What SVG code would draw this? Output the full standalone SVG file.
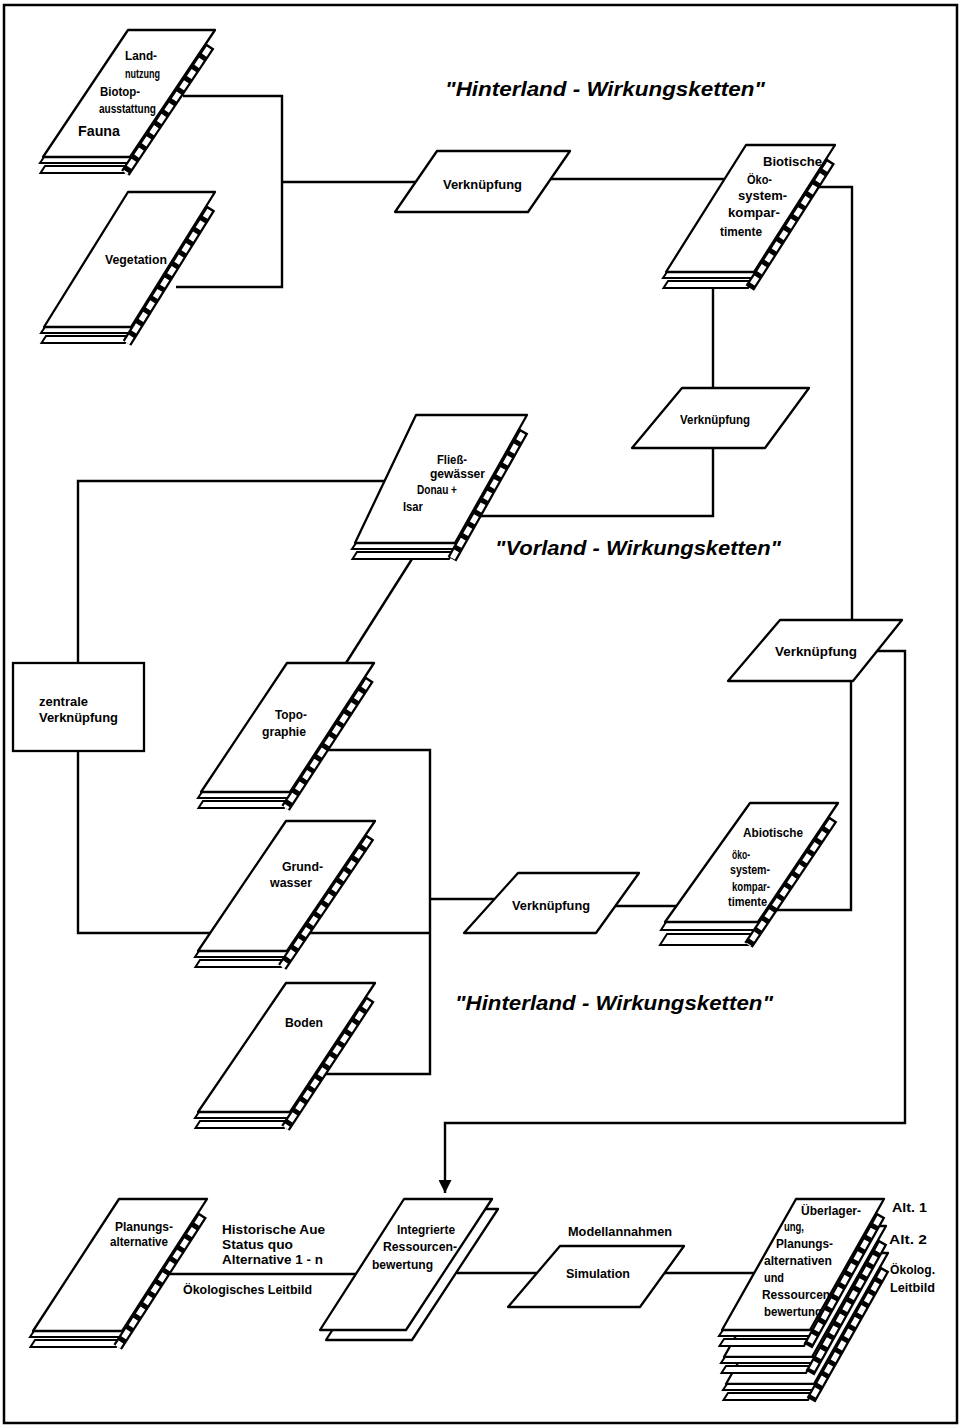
<svg xmlns="http://www.w3.org/2000/svg" width="969" height="1428" viewBox="0 0 969 1428">
<defs>
<style>
.ln{fill:none;stroke:#000;stroke-width:2.4;stroke-linejoin:miter}
.sheet{fill:#fff;stroke:#000;stroke-width:2.3;stroke-linejoin:round}
.band{fill:#fff;stroke:#000;stroke-width:2}
.sb{fill:none;stroke:#000;stroke-width:10}
.sw{fill:none;stroke:#fff;stroke-width:5.5;stroke-dasharray:0 2.5 8.5 2.5}
.op{fill:#fff;stroke:#000;stroke-width:2.3;stroke-linejoin:round}
text{font-family:"Liberation Sans",Arial,Helvetica,sans-serif;font-weight:bold;fill:#000}
.t{font-size:12px}
.v{font-size:12.5px}
.title{font-size:20px;font-style:italic}
</style>
<marker id="arr" viewBox="0 0 10 10" refX="10" refY="5" markerUnits="userSpaceOnUse" markerWidth="15" markerHeight="13" orient="auto">
<path d="M0,0 L10,5 L0,10 z" fill="#000"/>
</marker>
</defs>
<rect x="0" y="0" width="969" height="1428" fill="#fff"/>
<rect x="4" y="5" width="953" height="1418" fill="none" stroke="#000" stroke-width="2.5"/>

<g id="connectors">
<polyline class="ln" points="183,96 282,96 282,287 176,287"/>
<line class="ln" x1="282" y1="182" x2="416" y2="182"/>
<line class="ln" x1="551" y1="179" x2="724" y2="179"/>
<polyline class="ln" points="819,187 852,187 852,620"/>
<line class="ln" x1="713" y1="288" x2="713" y2="388"/>
<polyline class="ln" points="713,448 713,516 480,516"/>
<polyline class="ln" points="385,481 78,481 78,663"/>
<polyline class="ln" points="78,751 78,933 210,933"/>
<line class="ln" x1="412" y1="559" x2="346" y2="663"/>
<polyline class="ln" points="328,750 430,750 430,1074 326,1074"/>
<line class="ln" x1="310" y1="933" x2="430" y2="933"/>
<line class="ln" x1="430" y1="899" x2="495" y2="899"/>
<line class="ln" x1="615" y1="906" x2="676" y2="906"/>
<polyline class="ln" points="777,910 851,910 851,681"/>
<polyline class="ln" points="877,651 905,651 905,1123 445,1123 445,1193" marker-end="url(#arr)"/>
<line class="ln" x1="170" y1="1274" x2="356" y2="1274"/>
<line class="ln" x1="457" y1="1273" x2="537" y2="1273"/>
<line class="ln" x1="664" y1="1273" x2="754" y2="1273"/>
</g>

<g id="titles">
<text class="title" x="445" y="96" textLength="320" lengthAdjust="spacingAndGlyphs">"Hinterland - Wirkungsketten"</text>
<text class="title" x="495" y="555" textLength="286" lengthAdjust="spacingAndGlyphs">"Vorland - Wirkungsketten"</text>
<text class="title" x="455" y="1010" textLength="318" lengthAdjust="spacingAndGlyphs">"Hinterland - Wirkungsketten"</text>
</g>

<g id="landnutzung">
<polygon class="band" points="45,166 128,166 124,173 40.5,173"/>
<polygon class="band" points="44,157 134,157 130,163 40,163"/>
<line class="sb" x1="210.3" y1="46" x2="125.3" y2="173"/>
<line class="sw" x1="210.3" y1="46" x2="125.3" y2="173"/>
<polygon class="sheet" points="128,30 215,30 130,157 43,157"/>
<text class="t" x="125" y="60" textLength="32" lengthAdjust="spacingAndGlyphs">Land-</text>
<text class="t" x="125" y="78" textLength="35" lengthAdjust="spacingAndGlyphs">nutzung</text>
<text class="t" x="100" y="96" textLength="40" lengthAdjust="spacingAndGlyphs">Biotop-</text>
<text class="t" x="99" y="113" textLength="57" lengthAdjust="spacingAndGlyphs">ausstattung</text>
<text x="78" y="136" font-size="14" textLength="42" lengthAdjust="spacingAndGlyphs">Fauna</text>
</g>

<g id="vegetation">
<polygon class="band" points="46,336 129,336 125,343 41.5,343"/>
<polygon class="band" points="45,327 135,327 131,333 41,333"/>
<line class="sb" x1="211" y1="208" x2="127" y2="343"/>
<line class="sw" x1="211" y1="208" x2="127" y2="343"/>
<polygon class="sheet" points="128,192 215,192 131,327 44,327"/>
<text class="t" x="105" y="264" textLength="62" lengthAdjust="spacingAndGlyphs">Vegetation</text>
</g>

<g id="verknuepfung1">
<polygon class="op" points="437,151 570,151 528,212 395,212"/>
<text class="v" x="443" y="189" textLength="79" lengthAdjust="spacingAndGlyphs">Verknüpfung</text>
</g>

<g id="biotische">
<polygon class="band" points="668,281 752,281 748,288 663.5,288"/>
<polygon class="band" points="667,272 758,272 754,278 663,278"/>
<line class="sb" x1="830.8" y1="161" x2="749.8" y2="288"/>
<line class="sw" x1="830.8" y1="161" x2="749.8" y2="288"/>
<polygon class="sheet" points="746,145 835,145 754,272 666,272"/>
<text class="t" x="763" y="166" textLength="59" lengthAdjust="spacingAndGlyphs">Biotische</text>
<text class="t" x="747" y="184" textLength="25" lengthAdjust="spacingAndGlyphs">Öko-</text>
<text class="t" x="738" y="200" textLength="49" lengthAdjust="spacingAndGlyphs">system-</text>
<text class="t" x="728" y="217" textLength="52" lengthAdjust="spacingAndGlyphs">kompar-</text>
<text class="t" x="720" y="235.5" textLength="42" lengthAdjust="spacingAndGlyphs">timente</text>
</g>

<g id="verknuepfung2">
<polygon class="op" points="682,388 809,388 765,448 632,448"/>
<text class="v" x="680" y="424" textLength="70" lengthAdjust="spacingAndGlyphs">Verknüpfung</text>
</g>

<g id="fliessgewaesser">
<polygon class="band" points="357,552 453,552 449,559 352.5,559"/>
<polygon class="band" points="356,543 459,543 455,549 352,549"/>
<line class="sb" x1="524" y1="431" x2="452" y2="559"/>
<line class="sw" x1="524" y1="431" x2="452" y2="559"/>
<polygon class="sheet" points="416,415 527,415 455,543 355,543"/>
<text class="t" x="437" y="464" textLength="30" lengthAdjust="spacingAndGlyphs">Fließ-</text>
<text class="t" x="430" y="478" textLength="55" lengthAdjust="spacingAndGlyphs">gewässer</text>
<text class="t" x="417" y="494" textLength="40" lengthAdjust="spacingAndGlyphs">Donau +</text>
<text class="t" x="403" y="511" textLength="20" lengthAdjust="spacingAndGlyphs">Isar</text>
</g>

<g id="verknuepfung3">
<polygon class="op" points="780,620 902,620 853,681 728,681"/>
<text class="v" x="775" y="656" textLength="82" lengthAdjust="spacingAndGlyphs">Verknüpfung</text>
</g>

<g id="zentrale">
<rect x="13" y="663" width="131" height="88" fill="#fff" stroke="#000" stroke-width="2.3"/>
<text class="t" x="39" y="706" textLength="49" lengthAdjust="spacingAndGlyphs">zentrale</text>
<text class="t" x="39" y="722" textLength="79" lengthAdjust="spacingAndGlyphs">Verknüpfung</text>
</g>

<g id="topographie">
<polygon class="band" points="203,801 288,801 284,808 198.5,808"/>
<polygon class="band" points="202,792 294,792 290,798 198,798"/>
<line class="sb" x1="369.6" y1="679" x2="285.6" y2="808"/>
<line class="sw" x1="369.6" y1="679" x2="285.6" y2="808"/>
<polygon class="sheet" points="287,663 374,663 290,792 201,792"/>
<text class="t" x="275" y="719" textLength="32" lengthAdjust="spacingAndGlyphs">Topo-</text>
<text class="t" x="262" y="736" textLength="44" lengthAdjust="spacingAndGlyphs">graphie</text>
</g>

<g id="grundwasser">
<polygon class="band" points="200,960 285,960 281,967 195.5,967"/>
<polygon class="band" points="199,951 291,951 287,957 195,957"/>
<line class="sb" x1="370.2" y1="837" x2="282.2" y2="967"/>
<line class="sw" x1="370.2" y1="837" x2="282.2" y2="967"/>
<polygon class="sheet" points="286,821 375,821 287,951 198,951"/>
<text class="t" x="282" y="871" textLength="41" lengthAdjust="spacingAndGlyphs">Grund-</text>
<text class="t" x="270" y="887" textLength="42" lengthAdjust="spacingAndGlyphs">wasser</text>
</g>

<g id="boden">
<polygon class="band" points="200,1121 288,1121 284,1128 195.5,1128"/>
<polygon class="band" points="199,1112 294,1112 290,1118 195,1118"/>
<line class="sb" x1="370.5" y1="999" x2="285.5" y2="1128"/>
<line class="sw" x1="370.5" y1="999" x2="285.5" y2="1128"/>
<polygon class="sheet" points="286,983 375,983 290,1112 198,1112"/>
<text class="t" x="285" y="1027" textLength="38" lengthAdjust="spacingAndGlyphs">Boden</text>
</g>

<g id="verknuepfung4">
<polygon class="op" points="518,873 639,873 596,933 464,933"/>
<text class="v" x="512" y="910" textLength="78" lengthAdjust="spacingAndGlyphs">Verknüpfung</text>
</g>

<g id="abiotische">
<polygon class="band" points="667,934 754,934 748,945 660,945"/>
<polygon class="band" points="666,922 762,922 757,930 661,930"/>
<line class="sb" x1="833.2" y1="819" x2="748.5" y2="945"/>
<line class="sw" x1="833.2" y1="819" x2="748.5" y2="945"/>
<polygon class="sheet" points="750,803 838,803 758,922 665,922"/>
<text class="t" x="743" y="837" textLength="60" lengthAdjust="spacingAndGlyphs">Abiotische</text>
<text class="t" x="732" y="859" textLength="18" lengthAdjust="spacingAndGlyphs">öko-</text>
<text class="t" x="730" y="874" textLength="40" lengthAdjust="spacingAndGlyphs">system-</text>
<text class="t" x="732" y="891" textLength="38" lengthAdjust="spacingAndGlyphs">kompar-</text>
<text class="t" x="728" y="906" textLength="39" lengthAdjust="spacingAndGlyphs">timente</text>
</g>

<g id="planungsalternative">
<polygon class="band" points="35,1340 120,1340 116,1347 30.5,1347"/>
<polygon class="band" points="34,1331 126,1331 122,1337 30,1337"/>
<line class="sb" x1="202.7" y1="1215" x2="117.7" y2="1347"/>
<line class="sw" x1="202.7" y1="1215" x2="117.7" y2="1347"/>
<polygon class="sheet" points="119,1199 207,1199 122,1331 33,1331"/>
<text class="t" x="115" y="1231" textLength="58" lengthAdjust="spacingAndGlyphs">Planungs-</text>
<text class="t" x="110" y="1246" textLength="58" lengthAdjust="spacingAndGlyphs">alternative</text>
</g>

<g id="alternativen-label">
<text class="t" x="222" y="1234" textLength="103" lengthAdjust="spacingAndGlyphs">Historische Aue</text>
<text class="t" x="222" y="1249" textLength="71" lengthAdjust="spacingAndGlyphs">Status quo</text>
<text class="t" x="222" y="1264" textLength="101" lengthAdjust="spacingAndGlyphs">Alternative 1 - n</text>
<text class="t" x="183" y="1294" textLength="129" lengthAdjust="spacingAndGlyphs">Ökologisches Leitbild</text>
</g>

<g id="integrierte">
<polygon class="sheet" points="410,1209 498,1209 412,1340 326,1340"/>
<polygon class="sheet" points="404,1199 492,1199 406,1330 320,1330"/>
<text class="t" x="397" y="1234" textLength="58" lengthAdjust="spacingAndGlyphs">Integrierte</text>
<text class="t" x="383" y="1251" textLength="74" lengthAdjust="spacingAndGlyphs">Ressourcen-</text>
<text class="t" x="372" y="1269" textLength="61" lengthAdjust="spacingAndGlyphs">bewertung</text>
</g>

<g id="simulation">
<polygon class="op" points="560,1246 684,1246 640,1307 508,1307"/>
<text class="t" x="566" y="1278" textLength="64" lengthAdjust="spacingAndGlyphs">Simulation</text>
<text class="t" x="568" y="1236" textLength="104" lengthAdjust="spacingAndGlyphs">Modellannahmen</text>
</g>

<g id="ueberlagerung">
<polygon class="sheet" points="800,1253 888,1253 814,1384 726,1384"/>
<polygon class="band" points="728,1393 812,1393 808,1400 723.5,1400"/>
<polygon class="band" points="727,1384 818,1384 814.6,1390 723,1390"/>
<line class="sb" x1="885" y1="1269" x2="811" y2="1400"/>
<line class="sw" x1="885" y1="1269" x2="811" y2="1400"/>
<polygon class="sheet" points="798,1226 886,1226 812,1357 724,1357"/>
<polygon class="band" points="726,1366 810,1366 806,1373 721.5,1373"/>
<polygon class="band" points="725,1357 816,1357 812.6,1363 721,1363"/>
<line class="sb" x1="883" y1="1242" x2="810" y2="1373"/>
<line class="sw" x1="883" y1="1242" x2="810" y2="1373"/>
<polygon class="band" points="724,1339 808,1339 804,1346 719.5,1346"/>
<polygon class="band" points="723,1330 814,1330 810.6,1336 719,1336"/>
<line class="sb" x1="881" y1="1215" x2="808" y2="1346"/>
<line class="sw" x1="881" y1="1215" x2="808" y2="1346"/>
<polygon class="sheet" points="796,1199 884,1199 810,1330 722,1330"/>
<text class="t" x="801" y="1215" textLength="60" lengthAdjust="spacingAndGlyphs">Überlager-</text>
<text class="t" x="784" y="1231" textLength="20" lengthAdjust="spacingAndGlyphs">ung,</text>
<text class="t" x="776" y="1248" textLength="57" lengthAdjust="spacingAndGlyphs">Planungs-</text>
<text class="t" x="764" y="1265" textLength="68" lengthAdjust="spacingAndGlyphs">alternativen</text>
<text class="t" x="764" y="1282" textLength="20" lengthAdjust="spacingAndGlyphs">und</text>
<text class="t" x="762" y="1299" textLength="72" lengthAdjust="spacingAndGlyphs">Ressourcen-</text>
<text class="t" x="764" y="1316" textLength="58" lengthAdjust="spacingAndGlyphs">bewertung</text>
<text class="t" x="892" y="1212" textLength="35" lengthAdjust="spacingAndGlyphs">Alt. 1</text>
<text class="t" x="889" y="1244" textLength="38" lengthAdjust="spacingAndGlyphs">Alt. 2</text>
<text class="t" x="890" y="1274" textLength="45" lengthAdjust="spacingAndGlyphs">Ökolog.</text>
<text class="t" x="890" y="1292" textLength="45" lengthAdjust="spacingAndGlyphs">Leitbild</text>
</g>
</svg>
